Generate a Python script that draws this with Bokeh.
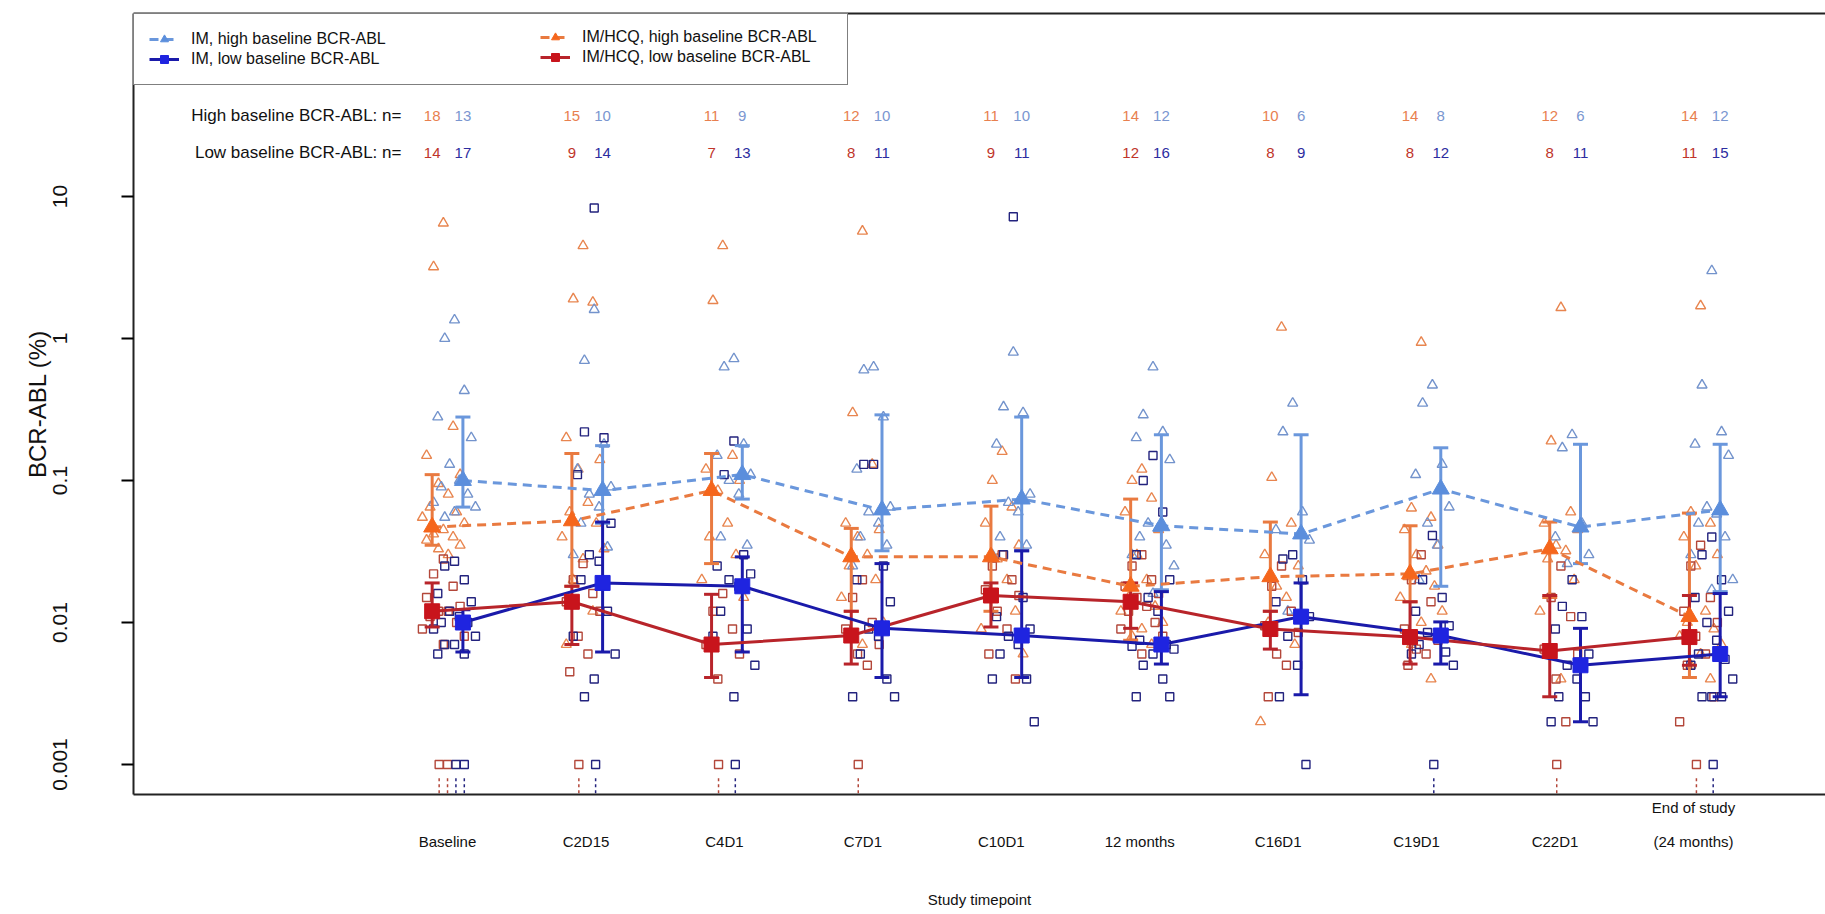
from bokeh.plotting import figure
from bokeh.models import Range1d, FixedTicker, LinearAxis, Legend, LegendItem
from bokeh.core.properties import value
from bokeh.embed import file_html
from bokeh.resources import INLINE

# ---------------- data ----------------
timepoints = ["Baseline", "C2D15", "C4D1", "C7D1", "C10D1", "12 months",
              "C16D1", "C19D1", "C22D1", "End of study\n(24 months)"]

n_high_hcq = [18, 15, 11, 12, 11, 14, 10, 14, 12, 14]
n_high_im = [13, 10, 9, 10, 10, 12, 6, 8, 6, 12]
n_low_hcq = [14, 9, 7, 8, 9, 12, 8, 8, 8, 11]
n_low_im = [17, 14, 13, 11, 11, 16, 9, 12, 11, 15]

# medians and interquartile ranges (%)
im_high_med = [0.10, 0.085, 0.11, 0.062, 0.074, 0.048, 0.042, 0.087, 0.047, 0.062]
im_high_q3 = [0.28, 0.176, 0.176, 0.29, 0.28, 0.21, 0.21, 0.17, 0.18, 0.18]
im_high_q1 = [0.065, 0.05, 0.074, 0.032, 0.032, 0.017, 0.012, 0.018, 0.026, 0.0165]

hcq_high_med = [0.047, 0.052, 0.085, 0.029, 0.029, 0.018, 0.021, 0.022, 0.033, 0.011]
hcq_high_q3 = [0.11, 0.155, 0.155, 0.046, 0.066, 0.074, 0.051, 0.048, 0.051, 0.059]
hcq_high_q1 = [0.035, 0.018, 0.026, 0.012, 0.012, 0.0075, 0.012, 0.014, 0.015, 0.0041]

hcq_low_med = [0.012, 0.014, 0.007, 0.0081, 0.0155, 0.014, 0.009, 0.0079, 0.0063, 0.0079]
hcq_low_q3 = [0.019, 0.018, 0.0158, 0.012, 0.019, 0.019, 0.012, 0.014, 0.0155, 0.0155]
hcq_low_q1 = [0.0093, 0.007, 0.0041, 0.0051, 0.0093, 0.0091, 0.0065, 0.0051, 0.003, 0.005]

im_low_med = [0.010, 0.019, 0.018, 0.0091, 0.0081, 0.007, 0.011, 0.0081, 0.005, 0.006]
im_low_q3 = [0.0123, 0.051, 0.029, 0.026, 0.032, 0.0165, 0.019, 0.0101, 0.0091, 0.016]
im_low_q1 = [0.0062, 0.0062, 0.0062, 0.0041, 0.0041, 0.0051, 0.0031, 0.0051, 0.002, 0.003]

# individual patient values (%)
hcq_high_pts = [
    [6.5, 3.2, 0.24, 0.15, 0.11, 0.095, 0.08, 0.065, 0.06, 0.055, 0.05, 0.045, 0.042, 0.04, 0.038, 0.035, 0.033, 0.03],
    [4.5, 1.9, 1.8, 0.2, 0.14, 0.12, 0.07, 0.06, 0.05, 0.04, 0.033, 0.028, 0.02, 0.012, 0.007],
    [4.5, 1.85, 0.15, 0.12, 0.1, 0.085, 0.05, 0.04, 0.03, 0.02, 0.015],
    [5.7, 0.3, 0.13, 0.05, 0.045, 0.04, 0.03, 0.025, 0.02, 0.015, 0.01, 0.007],
    [0.16, 0.1, 0.065, 0.05, 0.035, 0.028, 0.02, 0.015, 0.012, 0.009, 0.006],
    [0.12, 0.1, 0.075, 0.06, 0.045, 0.03, 0.02, 0.015, 0.013, 0.012, 0.01, 0.009, 0.008, 0.007],
    [1.2, 0.105, 0.05, 0.03, 0.025, 0.018, 0.015, 0.01, 0.007, 0.002],
    [0.94, 0.064, 0.055, 0.045, 0.035, 0.03, 0.023, 0.021, 0.018, 0.015, 0.012, 0.01, 0.007, 0.004],
    [1.65, 0.19, 0.06, 0.05, 0.045, 0.035, 0.032, 0.028, 0.02, 0.012, 0.005, 0.004],
    [1.7, 0.06, 0.05, 0.04, 0.03, 0.025, 0.012, 0.01, 0.009, 0.008, 0.007, 0.006, 0.005, 0.004],
]
im_high_pts = [
    [1.35, 1.0, 0.43, 0.28, 0.2, 0.13, 0.1, 0.09, 0.08, 0.07, 0.065, 0.06, 0.055],
    [1.6, 0.7, 0.18, 0.12, 0.09, 0.08, 0.065, 0.05, 0.034, 0.03],
    [0.72, 0.63, 0.18, 0.15, 0.11, 0.1, 0.08, 0.04, 0.035],
    [0.63, 0.6, 0.28, 0.12, 0.065, 0.06, 0.05, 0.04, 0.035, 0.025],
    [0.8, 0.33, 0.3, 0.18, 0.08, 0.07, 0.06, 0.04, 0.035, 0.03],
    [0.63, 0.29, 0.22, 0.2, 0.14, 0.05, 0.046, 0.04, 0.035, 0.03, 0.025, 0.016],
    [0.35, 0.22, 0.06, 0.045, 0.038, 0.012],
    [0.47, 0.35, 0.13, 0.11, 0.065, 0.05, 0.035, 0.02],
    [0.21, 0.17, 0.05, 0.04, 0.03, 0.026],
    [3.0, 0.47, 0.22, 0.18, 0.15, 0.065, 0.058, 0.05, 0.04, 0.03, 0.02, 0.017],
]
hcq_low_pts = [
    [0.028, 0.022, 0.018, 0.015, 0.013, 0.012, 0.012, 0.011, 0.01, 0.009, 0.008, 0.007],
    [0.026, 0.02, 0.016, 0.014, 0.012, 0.008, 0.006, 0.0045],
    [0.016, 0.012, 0.009, 0.007, 0.006, 0.004],
    [0.02, 0.015, 0.01, 0.009, 0.007, 0.006, 0.005],
    [0.03, 0.025, 0.02, 0.017, 0.0155, 0.012, 0.009, 0.006, 0.004],
    [0.03, 0.025, 0.02, 0.018, 0.016, 0.015, 0.013, 0.012, 0.01, 0.009, 0.008, 0.006],
    [0.025, 0.018, 0.012, 0.0095, 0.0085, 0.006, 0.005, 0.003],
    [0.03, 0.02, 0.014, 0.009, 0.0075, 0.0065, 0.006, 0.005],
    [0.025, 0.015, 0.011, 0.0065, 0.006, 0.004, 0.002],
    [0.035, 0.025, 0.015, 0.012, 0.01, 0.008, 0.006, 0.005, 0.003, 0.002],
]
im_low_pts = [
    [0.027, 0.025, 0.02, 0.016, 0.014, 0.012, 0.011, 0.01, 0.01, 0.009, 0.008, 0.007, 0.007, 0.006, 0.006],
    [8.3, 0.22, 0.2, 0.11, 0.05, 0.03, 0.027, 0.02, 0.012, 0.008, 0.006, 0.004, 0.003],
    [0.19, 0.11, 0.03, 0.025, 0.022, 0.02, 0.018, 0.012, 0.009, 0.008, 0.005, 0.003],
    [0.13, 0.13, 0.025, 0.02, 0.014, 0.009, 0.008, 0.006, 0.004, 0.003, 0.003],
    [7.2, 0.03, 0.015, 0.011, 0.009, 0.008, 0.007, 0.006, 0.004, 0.004, 0.002],
    [0.15, 0.1, 0.06, 0.03, 0.02, 0.015, 0.012, 0.0075, 0.007, 0.0068, 0.0065, 0.006, 0.005, 0.004, 0.003, 0.003],
    [0.03, 0.028, 0.02, 0.014, 0.011, 0.008, 0.005, 0.003, 0.001],
    [0.041, 0.02, 0.015, 0.012, 0.0095, 0.0085, 0.0078, 0.007, 0.0062, 0.006, 0.005],
    [0.02, 0.013, 0.011, 0.009, 0.006, 0.005, 0.004, 0.003, 0.003, 0.002, 0.002],
    [0.04, 0.03, 0.02, 0.015, 0.012, 0.01, 0.0075, 0.006, 0.0055, 0.005, 0.004, 0.003, 0.003, 0.003],
]
# patients below the detection limit (plotted at the limit)
hcq_low_undet = [2, 1, 1, 1, 0, 0, 0, 0, 1, 1]
im_low_undet = [2, 1, 1, 0, 0, 0, 0, 1, 0, 1]
LOD = 0.001

# ---------------- styles ----------------
FONT = "Liberation Sans"
C_IMH, C_IMH_BAR, C_IMH_PT, C_IMH_TXT = "#5B8EDC", "#6A97DC", "#7393CC", "#7A96D0"
C_HQH, C_HQH_BAR, C_HQH_PT, C_HQH_TXT = "#F5661C", "#E97A40", "#E8854F", "#E8804F"
C_HQL, C_HQL_BAR, C_HQL_PT, C_HQL_TXT = "#C8141C", "#B8242A", "#B3473A", "#C0352A"
C_IML, C_IML_BAR, C_IML_PT, C_IML_TXT = "#1F24E0", "#1A1AAA", "#23237E", "#2C2CA0"

HQ_OFF, IM_OFF = -0.11, 0.11
LABEL_STEP = 0.991   # category labels sit slightly tighter than the plotted groups
JIT = [0.0, -0.07, 0.07, -0.12, 0.12, -0.035, 0.035, -0.095, 0.095, -0.15, 0.15]

x_idx = list(range(len(timepoints)))
x_hq = [i + HQ_OFF for i in x_idx]
x_im = [i + IM_OFF for i in x_idx]
x_lab = [round(i * LABEL_STEP, 3) for i in x_idx]

p = figure(width=1825, height=910,
           x_range=Range1d(-2.248, 9.864), y_range=Range1d(0.000615, 194.5),
           y_axis_type="log", output_backend="svg", toolbar_location=None,
           min_border_left=133, min_border_right=0, min_border_top=13, min_border_bottom=116)
p.outline_line_color = None
p.xgrid.visible = False
p.ygrid.visible = False
p.background_fill_color = "white"


def cloud(groups, shift):
    xs, ys = [], []
    for i, vals in enumerate(groups):
        for k, v in enumerate(vals):
            xs.append(i + shift + JIT[k % len(JIT)])
            ys.append(v)
    return xs, ys


# individual points
for groups, shift, marker, col, sz in [
        (hcq_high_pts, -0.03, "triangle", C_HQH_PT, 10),
        (im_high_pts, 0.05, "triangle", C_IMH_PT, 10),
        (hcq_low_pts, -0.03, "square", C_HQL_PT, 8),
        (im_low_pts, 0.05, "square", C_IML_PT, 8)]:
    xs, ys = cloud(groups, shift)
    p.scatter(xs, ys, marker=marker, size=sz, fill_color=None, line_color=col, line_width=1.4)

# below detection limit: square at the limit with dashed drop line
for counts, shift, col in [(hcq_low_undet, -0.06, C_HQL_PT), (im_low_undet, 0.06, C_IML_PT)]:
    ux, uy, ylo, yhi = [], [], [], []
    for i, c in enumerate(counts):
        for k in range(c):
            ux.append(i + shift + 0.06 * k)
            uy.append(LOD)
            yhi.append(LOD * 0.8)
            ylo.append(LOD * 0.5)
    p.segment(ux, yhi, ux, ylo, line_color=col, line_width=1.5, line_dash="3 3")
    p.scatter(ux, uy, marker="square", size=8, fill_color=None, line_color=col, line_width=1.4)

# error bars (interquartile range)
for xs, lo, hi, col in [(x_im, im_high_q1, im_high_q3, C_IMH_BAR),
                        (x_hq, hcq_high_q1, hcq_high_q3, C_HQH_BAR),
                        (x_hq, hcq_low_q1, hcq_low_q3, C_HQL_BAR),
                        (x_im, im_low_q1, im_low_q3, C_IML_BAR)]:
    p.segment(xs, lo, xs, hi, line_color=col, line_width=3)
    p.scatter(xs, lo, marker="dash", size=15, line_color=col, line_width=3)
    p.scatter(xs, hi, marker="dash", size=15, line_color=col, line_width=3)

# connecting lines and medians
series = [
    ("IM, high baseline BCR-ABL", x_im, im_high_med, C_IMH, C_IMH_BAR, "triangle", "9 6"),
    ("IM, low baseline BCR-ABL", x_im, im_low_med, C_IML, C_IML_BAR, "square", "solid"),
    ("IM/HCQ, high baseline BCR-ABL", x_hq, hcq_high_med, C_HQH, C_HQH_BAR, "triangle", "9 6"),
    ("IM/HCQ, low baseline BCR-ABL", x_hq, hcq_low_med, C_HQL, C_HQL_BAR, "square", "solid"),
]
line_r, small_r = {}, {}
for name, xs, ys, col, lcol, mk, dash in series:
    line_r[name] = p.line(xs, ys, line_color=lcol, line_width=3, line_dash=dash)
for name, xs, ys, col, lcol, mk, dash in series:
    # small copies (hidden under the medians) give the legend its compact symbols
    small_r[name] = p.scatter(xs, ys, marker=mk, size=9 if mk == "triangle" else 8,
                              fill_color=col, line_color=col)
for name, xs, ys, col, lcol, mk, dash in series:
    p.scatter(xs, ys, marker=mk, size=17 if mk == "triangle" else 15,
              fill_color=col, line_color=col)

leg_items = [LegendItem(label=s[0], renderers=[line_r[s[0]], small_r[s[0]]]) for s in series]

common = dict(margin=0, padding=15, spacing=0, glyph_width=30, glyph_height=20,
              label_height=20, label_standoff=12, label_text_font=FONT,
              label_text_font_size="16px", label_text_color="#111")
legA = Legend(items=leg_items[:2], location="top_left", label_width=641,
              border_line_color="black", border_line_width=1.5,
              background_fill_color="white", background_fill_alpha=1.0, **common)
legB = Legend(items=leg_items[2:], location=(407, 727), label_width=200,
              border_line_color=None, background_fill_alpha=0.0, **common)
p.add_layout(legA)
p.add_layout(legB)

# n per group
Y_HIGH, Y_LOW = 37.0, 20.4
p.text([-0.33], [Y_HIGH], text=["High baseline BCR-ABL: n="], text_font=value(FONT),
       text_font_size="17px", text_align="right", text_baseline="middle", text_color="#111")
p.text([-0.33], [Y_LOW], text=["Low baseline BCR-ABL: n="], text_font=value(FONT),
       text_font_size="17px", text_align="right", text_baseline="middle", text_color="#111")
for xs, yv, ns, col in [(x_hq, Y_HIGH, n_high_hcq, C_HQH_TXT), (x_im, Y_HIGH, n_high_im, C_IMH_TXT),
                        (x_hq, Y_LOW, n_low_hcq, C_HQL_TXT), (x_im, Y_LOW, n_low_im, C_IML_TXT)]:
    p.text(xs, [yv] * len(xs), text=[str(n) for n in ns], text_font=value(FONT),
           text_font_size="15px", text_align="center", text_baseline="middle", text_color=col)

# axes
xa = p.xaxis[0]
xa.ticker = FixedTicker(ticks=x_lab)
xa.major_label_overrides = {x_lab[i]: (t if "\n" in t else "\n" + t) for i, t in enumerate(timepoints)}
xa.major_tick_out = 0
xa.major_tick_in = 0
xa.minor_tick_out = 0
xa.minor_tick_in = 0
xa.major_label_standoff = 4
xa.major_label_text_font = FONT
xa.major_label_text_font_size = "15px"
xa.major_label_text_line_height = 2.0
xa.major_label_text_color = "#111"
xa.axis_line_width = 2
xa.axis_line_color = "#222"
xa.axis_label = "Study timepoint"
xa.axis_label_text_font = FONT
xa.axis_label_text_font_size = "15px"
xa.axis_label_text_font_style = "normal"
xa.axis_label_text_color = "#111"
xa.axis_label_standoff = 38

ya = p.yaxis[0]
yt = [0.001, 0.01, 0.1, 1, 10]
ya.ticker = FixedTicker(ticks=yt)
ya.major_label_overrides = {0.001: "0.001", 0.01: "0.01", 0.1: "0.1", 1: "1", 10: "10"}
ya.major_label_orientation = "vertical"
ya.major_tick_out = 12
ya.major_tick_in = 0
ya.minor_tick_out = 0
ya.minor_tick_in = 0
ya.major_tick_line_width = 2
ya.major_label_standoff = 54
ya.major_label_text_font = FONT
ya.major_label_text_font_size = "21px"
ya.major_label_text_color = "#111"
ya.axis_line_width = 2
ya.axis_line_color = "#222"
ya.axis_label = "BCR-ABL (%)"
ya.axis_label_text_font = FONT
ya.axis_label_text_font_size = "24px"
ya.axis_label_text_font_style = "normal"
ya.axis_label_text_color = "#111"
ya.axis_label_standoff = 0

top = LinearAxis(ticker=FixedTicker(ticks=[]), axis_line_width=2, axis_line_color="#222",
                 major_tick_out=0, major_tick_in=0, minor_tick_out=0, minor_tick_in=0,
                 major_label_standoff=0, major_label_text_font_size="0px")
p.add_layout(top, "above")

open("out.html", "w").write(file_html(p, INLINE))
